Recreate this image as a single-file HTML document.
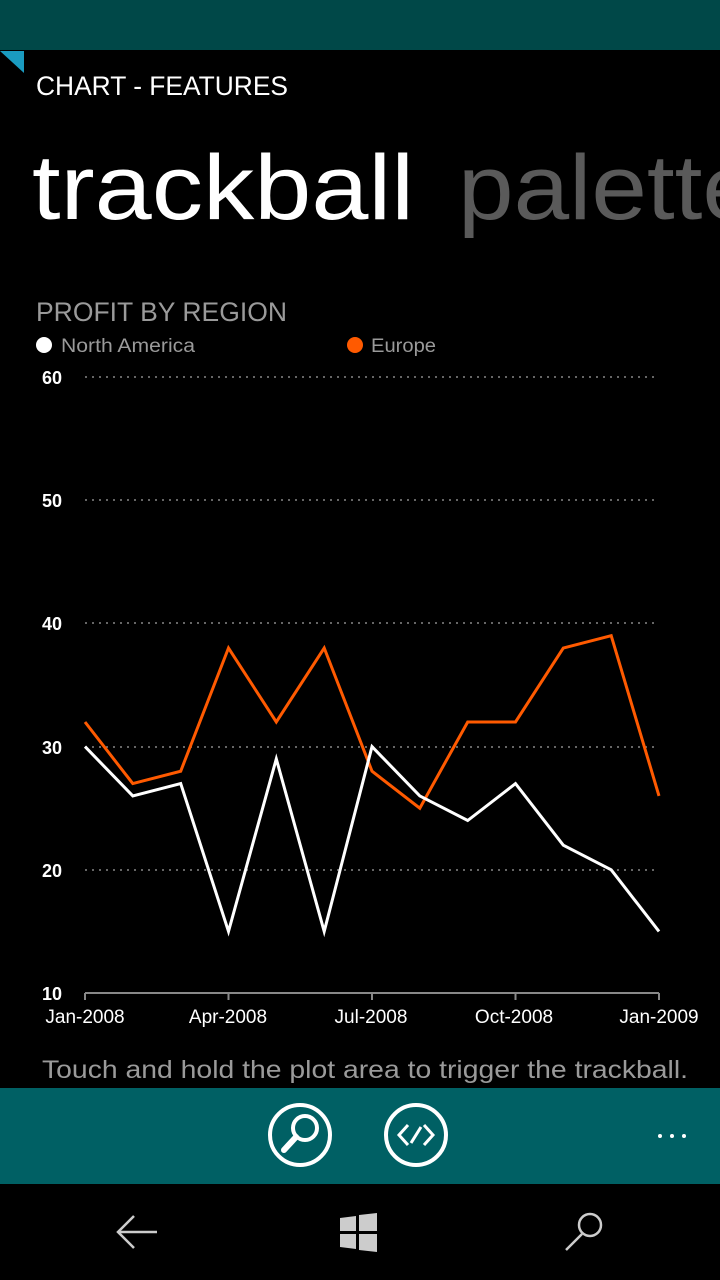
<!DOCTYPE html>
<html><head><meta charset="utf-8"><style>
html,body{margin:0;padding:0;background:#000;width:720px;height:1280px;overflow:hidden;font-family:"Liberation Sans",sans-serif;}
</style></head><body>
<svg width="720" height="1280" viewBox="0 0 720 1280" xmlns="http://www.w3.org/2000/svg" font-family="Liberation Sans, sans-serif">
<rect x="0" y="0" width="720" height="50" fill="#004848"/>
<polygon points="0,51 24,51 24,73" fill="#1a9bc0"/>
<text x="36" y="95" fill="#fff" font-size="27" textLength="252" lengthAdjust="spacingAndGlyphs">CHART - FEATURES</text>
<text x="32" y="219" fill="#fff" font-size="92" textLength="382" lengthAdjust="spacingAndGlyphs">trackball</text>
<text x="458" y="219" fill="#5a5a5a" font-size="92" textLength="300" lengthAdjust="spacingAndGlyphs">palette</text>
<text x="36" y="321" fill="#9a9a9a" font-size="27" textLength="251" lengthAdjust="spacingAndGlyphs">PROFIT BY REGION</text>
<circle cx="44" cy="345" r="8" fill="#fff"/>
<text x="61" y="352" fill="#9a9a9a" font-size="19" textLength="134" lengthAdjust="spacingAndGlyphs">North America</text>
<circle cx="355" cy="345" r="8" fill="#ff5a00"/>
<text x="371" y="352" fill="#9a9a9a" font-size="19" textLength="65" lengthAdjust="spacingAndGlyphs">Europe</text>
<g stroke="#888" stroke-width="1.5" stroke-dasharray="2,5">
<line x1="85" y1="377" x2="659" y2="377"/><line x1="85" y1="500" x2="659" y2="500"/><line x1="85" y1="623" x2="659" y2="623"/><line x1="85" y1="747" x2="659" y2="747"/><line x1="85" y1="870" x2="659" y2="870"/>
</g>
<g fill="#fff" font-size="18" font-weight="bold" text-anchor="end">
<text x="62" y="384">60</text><text x="62" y="507">50</text><text x="62" y="630">40</text><text x="62" y="754">30</text><text x="62" y="877">20</text><text x="62" y="1000">10</text>
</g>
<line x1="85" y1="993" x2="659" y2="993" stroke="#888" stroke-width="2"/>
<g stroke="#888" stroke-width="2"><line x1="85" y1="993" x2="85" y2="1000"/><line x1="228.5" y1="993" x2="228.5" y2="1000"/><line x1="372" y1="993" x2="372" y2="1000"/><line x1="515.5" y1="993" x2="515.5" y2="1000"/><line x1="659" y1="993" x2="659" y2="1000"/></g>
<g fill="#fff" font-size="19" text-anchor="middle">
<text x="85" y="1023">Jan-2008</text><text x="228" y="1023">Apr-2008</text><text x="371" y="1023">Jul-2008</text><text x="514" y="1023">Oct-2008</text><text x="659" y="1023">Jan-2009</text>
</g>
<polyline fill="none" stroke="#ff5a00" stroke-width="3" points="85,722 132.8,783.6 180.7,771.2 228.5,648 276.3,722 324.2,648 372,771.2 419.8,808.2 467.7,722 515.5,722 563.3,648 611.2,635.7 659,795.9"/>
<polyline fill="none" stroke="#fff" stroke-width="3" points="85,746.6 132.8,795.9 180.7,783.6 228.5,931.4 276.3,758.9 324.2,931.4 372,746.6 419.8,795.9 467.7,820.5 515.5,783.6 563.3,845.2 611.2,869.8 659,931.4"/>
<text x="42" y="1078" fill="#9a9a9a" font-size="25" textLength="646" lengthAdjust="spacingAndGlyphs">Touch and hold the plot area to trigger the trackball.</text>
<rect x="0" y="1088" width="720" height="96" fill="#006064"/>
<circle cx="300" cy="1135" r="30" fill="none" stroke="#fff" stroke-width="4"/>
<circle cx="305" cy="1128" r="12" fill="none" stroke="#fff" stroke-width="4"/>
<line x1="296" y1="1137" x2="284" y2="1150" stroke="#fff" stroke-width="6" stroke-linecap="round"/>
<circle cx="416" cy="1135" r="30" fill="none" stroke="#fff" stroke-width="4"/>
<polyline points="408,1125 399,1135 408,1145" fill="none" stroke="#fff" stroke-width="3"/>
<polyline points="424,1125 433,1135 424,1145" fill="none" stroke="#fff" stroke-width="3"/>
<line x1="411" y1="1143" x2="421" y2="1127" stroke="#fff" stroke-width="3"/>
<g fill="#fff"><circle cx="660" cy="1136" r="2"/><circle cx="672" cy="1136" r="2"/><circle cx="684" cy="1136" r="2"/></g>
<g stroke="#ccc" stroke-width="2.5" fill="none">
<line x1="118" y1="1232" x2="157" y2="1232"/><polyline points="134,1216 118,1232 134,1248"/>
<circle cx="590" cy="1225" r="11"/><line x1="582" y1="1234" x2="566" y2="1250"/>
</g>
<g fill="#ccc"><polygon points="340,1218 356,1216 356,1231 340,1231"/><polygon points="359,1215 377,1213 377,1231 359,1231"/><polygon points="340,1234 356,1234 356,1249 340,1247"/><polygon points="359,1234 377,1234 377,1252 359,1250"/></g>
</svg>
</body></html>
